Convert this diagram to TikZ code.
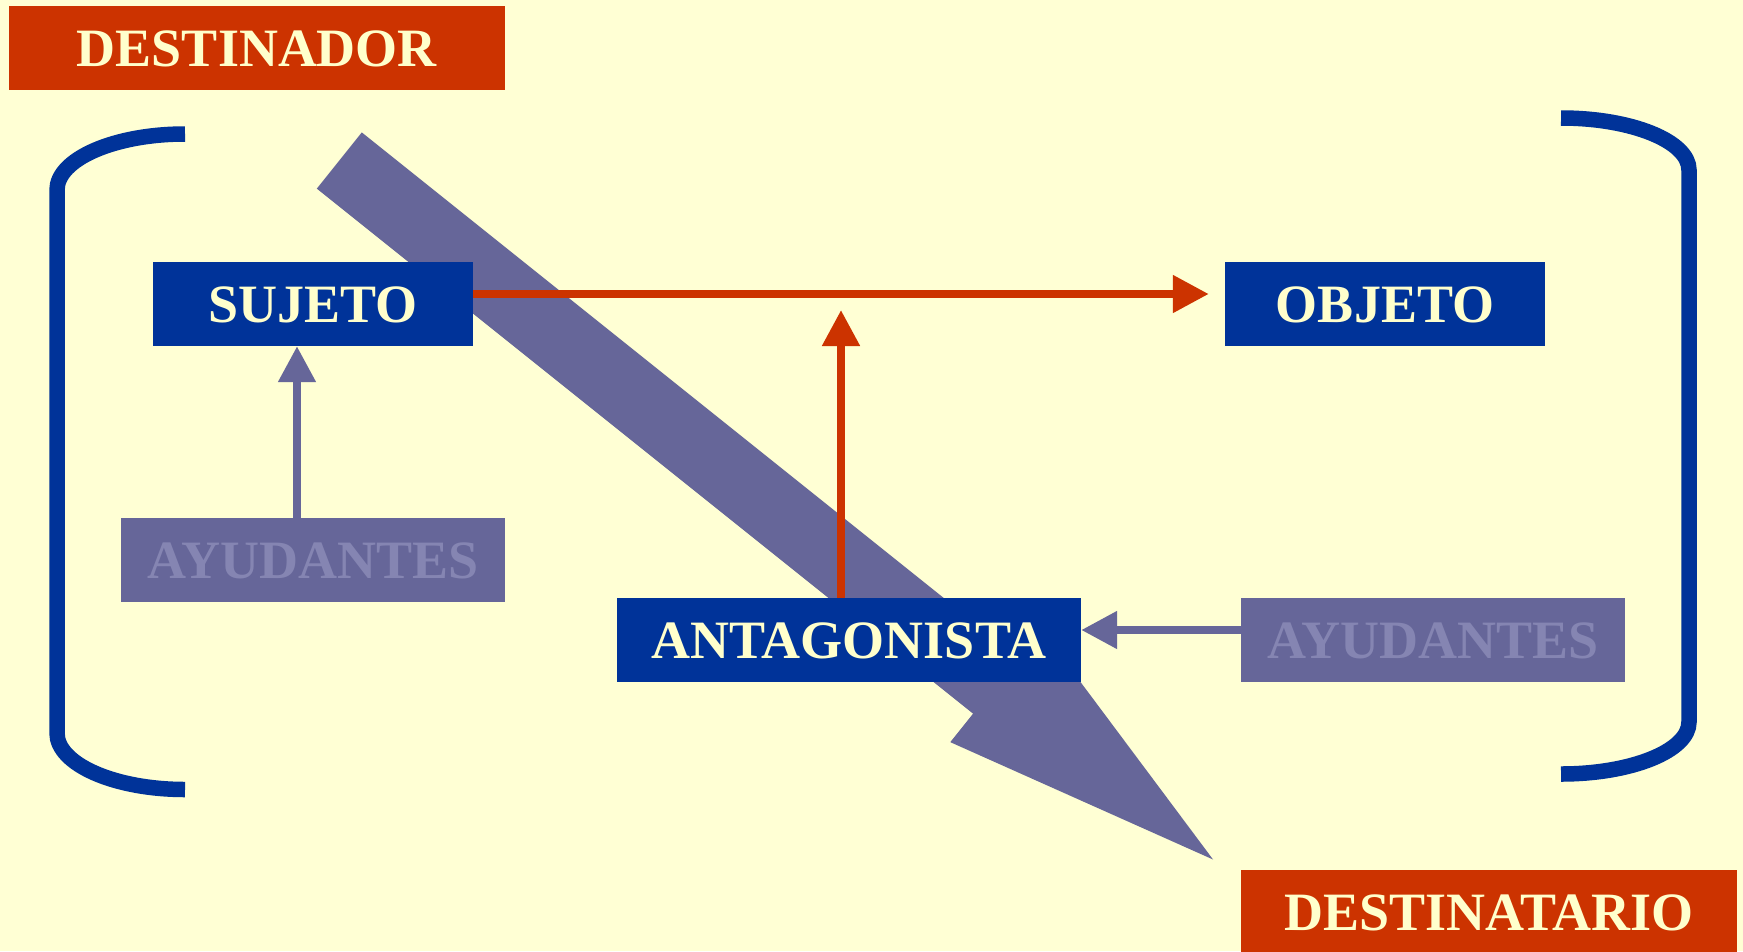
\documentclass[tikz,border=0pt]{standalone}
\usepackage{fontspec}
\setmainfont{Liberation Serif}
\usetikzlibrary{arrows.meta,positioning}
\definecolor{fondo}{HTML}{FFFFD4}
\definecolor{rojo}{HTML}{CC3300}
\definecolor{azul}{HTML}{003399}
\definecolor{lila}{HTML}{666699}
\definecolor{lilaclaro}{HTML}{8585B2}
\definecolor{crema}{HTML}{FFFFCC}

\begin{document}
\begin{tikzpicture}[x=1pt, y=-1pt,
    caja/.style={minimum height=84pt, inner sep=0pt, text height=36pt, text depth=0pt,
      font=\fontsize{54}{54}\selectfont\bfseries},
    rol/.style={caja, fill=rojo, text=crema, minimum width=496pt},
    act/.style={caja, fill=azul, text=crema},
    ayu/.style={caja, fill=lila, text=lilaclaro, minimum width=384pt},
    flecha/.style={line width=8pt, -{Triangle[length=36pt,width=36pt]}},
    llave/.style={draw=azul, line width=15.5pt}]
		\fill[fondo] (0,0) rectangle (1743,951);
		\useasboundingbox (0,0) rectangle (1743,951);
		
		% flecha grande destinador -> destinatario
		\begin{scope}[shift={(339.3,160.5)}, rotate=-38.66]
		\fill[lila] (0,-36) -- (840.5,-36) -- (840.5,-72.5) -- (1119,0)
		  -- (840.5,72.5) -- (840.5,36) -- (0,36) -- cycle;
		\end{scope}
		
		% llaves
		\draw[llave] (185,134) arc[start angle=90, end angle=180, x radius=128pt, y radius=56pt]
		  -- (57,733) arc[start angle=180, end angle=270, x radius=128pt, y radius=56.5pt];
		\draw[llave] (1561,118) arc[start angle=90, end angle=0, x radius=128pt, y radius=52pt]
		  -- (1689,722) arc[start angle=0, end angle=-90, x radius=128pt, y radius=52pt];
		
		\node[rol] (Dor) at (257,48) {DESTINADOR};
		\node[act, minimum width=320pt] (S) at (313,304) {SUJETO};
		\node[act, minimum width=320pt] (O) at (1385,304) {OBJETO};
		\node[ayu] (Y1) at (313,560) {AYUDANTES};
		\node[act, minimum width=464pt] (A) at (849,640) {ANTAGONISTA};
		\node[ayu] (Y2) at (1433,640) {AYUDANTES};
		\node[rol] (Dio) at (1489,912) {DESTINATARIO};
		\coordinate (tope) at (841,310);
		
		\draw[flecha, rojo, shorten >=16pt] ([yshift=10pt]S.east) -- ([yshift=10pt]O.west);
		\draw[flecha, rojo] (tope |- A.north) -- (tope);
		\draw[flecha, lila] ([xshift=-16pt]Y1.north) -- ([xshift=-16pt]S.south);
		\draw[flecha, lila] ([yshift=10pt]Y2.west) -- ([yshift=10pt]A.east);
		\end{tikzpicture}
\end{document}
